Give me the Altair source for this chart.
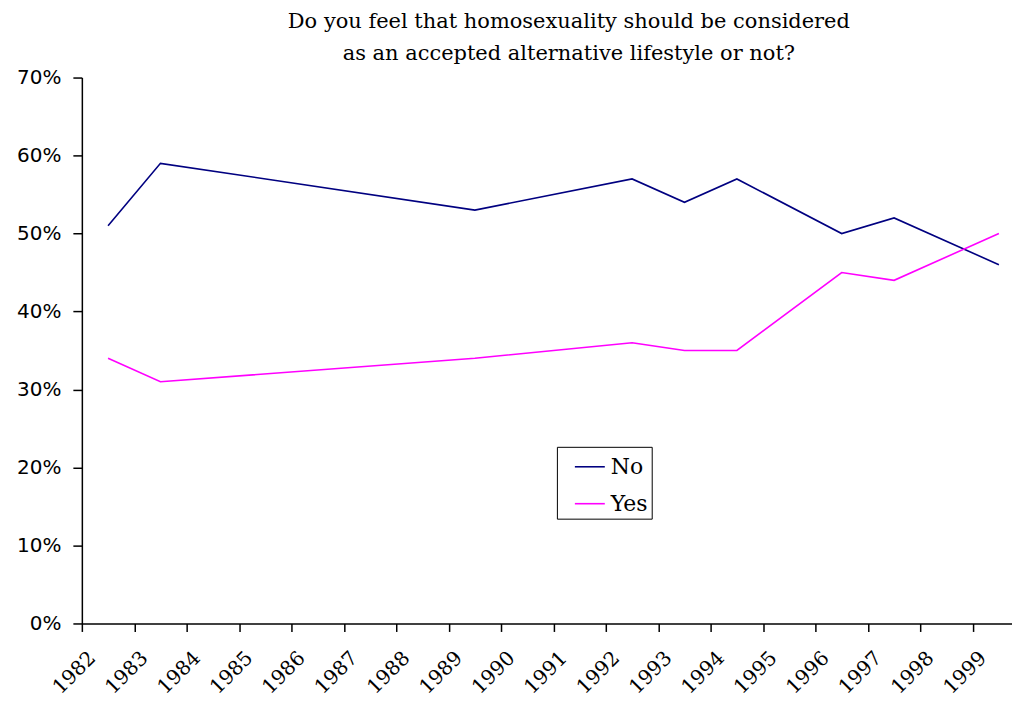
import altair as alt
import pandas as pd

years = [1982, 1983, 1989, 1992, 1993, 1994, 1996, 1997, 1999]
no_vals = [51, 59, 53, 57, 54, 57, 50, 52, 46]
yes_vals = [34, 31, 34, 36, 35, 35, 45, 44, 50]
tick_years = list(range(1982, 2000))
series = ["No", "Yes"]
colors = ["#000080", "#FF00FF"]

rows = []
for y, n, s in zip(years, no_vals, yes_vals):
    rows.append({"year": y, "answer": "No", "pct": n / 100})
    rows.append({"year": y, "answer": "Yes", "pct": s / 100})
df = pd.DataFrame(rows)

chart = (
    alt.Chart(df)
    .transform_calculate(mid="datum.year + 0.5")
    .mark_line(strokeWidth=1.6)
    .encode(
        x=alt.X(
            "mid:Q",
            scale=alt.Scale(domain=[1982, 1999.75], nice=False, zero=False),
            axis=alt.Axis(
                values=tick_years,
                format="d",
                labelAngle=-45,
                title=None,
                grid=False,
                tickSize=8,
                labelFont="DejaVu Serif",
                labelFontSize=20,
                labelColor="#000000",
                labelPadding=16,
                labelOffset=3,
                labelOverlap=False,
                labelBound=False,
                domainColor="#000000",
                tickColor="#000000",
                domainWidth=1.5,
                tickWidth=1.5,
            ),
        ),
        y=alt.Y(
            "pct:Q",
            scale=alt.Scale(domain=[0, 0.7], nice=False),
            axis=alt.Axis(
                values=[0, 0.1, 0.2, 0.3, 0.4, 0.5, 0.6, 0.7],
                format=".0%",
                title=None,
                grid=False,
                tickSize=9,
                labelFont="DejaVu Sans",
                labelFontSize=20,
                labelColor="#000000",
                labelPadding=12,
                domainColor="#000000",
                tickColor="#000000",
                domainWidth=1.5,
                tickWidth=1.5,
            ),
        ),
        color=alt.Color(
            "answer:N",
            scale=alt.Scale(domain=series, range=colors),
            legend=alt.Legend(
                title=None,
                orient="none",
                legendX=476,
                legendY=370,
                symbolType="stroke",
                symbolSize=900,
                symbolStrokeWidth=1.6,
                symbolOffset=13,
                labelFont="DejaVu Serif",
                labelFontSize=22,
                labelColor="#000000",
                labelOffset=5,
                rowPadding=10,
                padding=4,
                strokeColor="#000000",
                fillColor="#FFFFFF",
            ),
        ),
    )
    .properties(
        width=932,
        height=547,
        background="#FFFFFF",
        title=alt.TitleParams(
            text=[
                "Do you feel that homosexuality should be considered",
                "as an accepted alternative lifestyle or not?",
            ],
            font="DejaVu Serif",
            fontSize=21,
            fontWeight="normal",
            color="#000000",
            anchor="middle",
            frame="group",
            dx=22,
            offset=4,
            lineHeight=32,
        ),
        autosize=alt.AutoSizeParams(type="none"),
        padding={"left": 74, "top": 69, "right": 0, "bottom": 76},
    )
    .configure_view(stroke="transparent", strokeWidth=0)
)

chart.save("out.html", embed_options={"renderer": "svg", "actions": False})
